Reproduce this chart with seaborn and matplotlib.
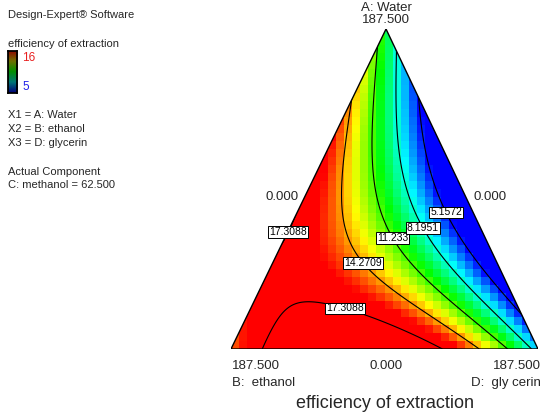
import numpy as np
import matplotlib
matplotlib.use("Agg")
import matplotlib.pyplot as plt
from matplotlib.patches import Polygon
import seaborn as sns

# Fitted mixture model for efficiency of extraction (pseudo components A, B, D)
LINEAR_COEF = [10.0, 14.8, 7.3]       # A, B, D
BINARY_COEF = [18.5, -25.3, 35.8]     # AB, AD, BD
TERNARY_COEF = [-52.0]                # ABD

CONTOUR_LEVELS = [5.1572, 8.1951, 11.233, 14.2709, 17.3088]
CONTOUR_TEXT = ["5.1572", "8.1951", "11.233", "14.2709", "17.3088"]
COLOR_RANGE = [5, 16]
RAINBOW = ["#0000ff", "#00ffff", "#00ff00", "#ffff00", "#ff0000"]
RAINBOW_DARK = ["#00007a", "#007777", "#009000", "#707000", "#900000"]

VERTEX_NAMES = ["A: Water", "B:  ethanol", "D:  gly cerin"]
VERTEX_HIGH = ["187.500", "187.500", "187.500"]
VERTEX_LOW = "0.000"
LEGEND_LINES = ["X1 = A: Water", "X2 = B: ethanol", "X3 = D: glycerin"]
FIXED_LINES = ["Actual Component", "C: methanol = 62.500"]

W, H = 543, 417
TRI_LEFT, TRI_RIGHT, TRI_TOP, TRI_BOTTOM = 231, 538, 29, 349
APEX_X = 0.505


def response(a, b, d):
    la, lb, ld = LINEAR_COEF
    cab, cad, cbd = BINARY_COEF
    return (la * a + lb * b + ld * d + cab * a * b + cad * a * d
            + cbd * b * d + TERNARY_COEF[0] * a * b * d)


def to_mix(x, y):
    a = y
    d = x - a * APEX_X
    b = 1 - a - d
    return a, b, d


def px(x, y):
    return x / W, 1 - y / H


def to_data(x, y):
    return ((x - TRI_LEFT) / (TRI_RIGHT - TRI_LEFT),
            (TRI_BOTTOM - y) / (TRI_BOTTOM - TRI_TOP))


sns.set_theme(style="white")
plt.rcParams["font.family"] = ["Liberation Sans", "DejaVu Sans"]

fig = plt.figure(figsize=(W / 100, H / 100), dpi=100)
ax = fig.add_axes([TRI_LEFT / W, 1 - TRI_BOTTOM / H,
                   (TRI_RIGHT - TRI_LEFT) / W, (TRI_BOTTOM - TRI_TOP) / H])
ax.set_xlim(0, 1)
ax.set_ylim(0, 1)
ax.axis("off")

cmap = sns.blend_palette(RAINBOW, as_cmap=True)
cmap_dark = sns.blend_palette(RAINBOW_DARK, as_cmap=True)

tri = Polygon([(0, 0), (1, 0), (APEX_X, 1)], closed=True, fill=False,
              edgecolor="black", linewidth=1.0, zorder=5)
ax.add_patch(tri)

# blocky colour cells
nx, ny = 38, 40
xe = np.linspace(0, 1, nx + 1)
ye = np.linspace(0, 1, ny + 1)
xc, yc = np.meshgrid((xe[:-1] + xe[1:]) / 2, (ye[:-1] + ye[1:]) / 2)
zc = response(*to_mix(xc, yc))
mesh = ax.pcolormesh(xe, ye, zc, cmap=cmap, vmin=COLOR_RANGE[0],
                     vmax=COLOR_RANGE[1], shading="flat")
mesh.set_clip_path(tri)

# contour lines on a fine grid
xf, yf = np.meshgrid(np.linspace(0, 1, 301), np.linspace(0, 1, 301))
zf = response(*to_mix(xf, yf))
cs = ax.contour(xf, yf, zf, levels=CONTOUR_LEVELS, colors="black",
                linewidths=0.8)
cs.set_clip_path(tri)

label_spots = [to_data(286, 231), to_data(363, 263), to_data(393, 238),
               to_data(423, 228), to_data(447, 212), to_data(346, 305)]
labels = ax.clabel(cs, inline=False, fontsize=7.5,
                   fmt=dict(zip(CONTOUR_LEVELS, CONTOUR_TEXT)),
                   manual=label_spots)
for t in labels:
    t.set_rotation(0)
    t.set_zorder(6)
    t.set_bbox(dict(facecolor="white", edgecolor="black", pad=0.7,
                    linewidth=0.7))

# vertex labels
fs = 9.5
fig.text(*px(386, 8), VERTEX_NAMES[0], ha="center", va="center", fontsize=fs)
fig.text(*px(386, 20), VERTEX_HIGH[0], ha="center", va="center", fontsize=fs)
fig.text(*px(299, 197), VERTEX_LOW, ha="right", va="center", fontsize=fs)
fig.text(*px(473, 197), VERTEX_LOW, ha="left", va="center", fontsize=fs)
fig.text(*px(232, 366), VERTEX_HIGH[1], ha="left", va="center", fontsize=fs)
fig.text(*px(386, 366), VERTEX_LOW, ha="center", va="center", fontsize=fs)
fig.text(*px(541, 366), VERTEX_HIGH[2], ha="right", va="center", fontsize=fs)
fig.text(*px(232, 383), VERTEX_NAMES[1], ha="left", va="center", fontsize=fs)
fig.text(*px(541, 383), VERTEX_NAMES[2], ha="right", va="center", fontsize=fs)
fig.text(*px(385, 404), "efficiency of extraction", ha="center",
         va="center", fontsize=13)

# left info panel
fl = 8
fig.text(*px(8, 15), "Design-Expert® Software", va="center", fontsize=fl)
fig.text(*px(8, 44), "efficiency of extraction", va="center", fontsize=fl)
fig.text(*px(22, 58), str(COLOR_RANGE[1]), va="center", fontsize=8.5,
         color="#e82020")
fig.text(*px(22, 87), str(COLOR_RANGE[0]), va="center", fontsize=8.5,
         color="#2020e8")
for i, line in enumerate(LEGEND_LINES):
    fig.text(*px(8, 115 + 14 * i), line, va="center", fontsize=fl)
for i, line in enumerate(FIXED_LINES):
    fig.text(*px(8, 172 + 13 * i), line, va="center", fontsize=fl)

cax = fig.add_axes([8 / W, 1 - 93 / H, 9 / W, 42 / H])
cax.imshow(np.linspace(1, 0, 60)[:, None], aspect="auto", cmap=cmap_dark,
           vmin=0, vmax=1)
cax.set_xticks([])
cax.set_yticks([])
for s in cax.spines.values():
    s.set_visible(True)
    s.set_color("black")
    s.set_linewidth(1.3)

fig.savefig("out.png", dpi=100)
